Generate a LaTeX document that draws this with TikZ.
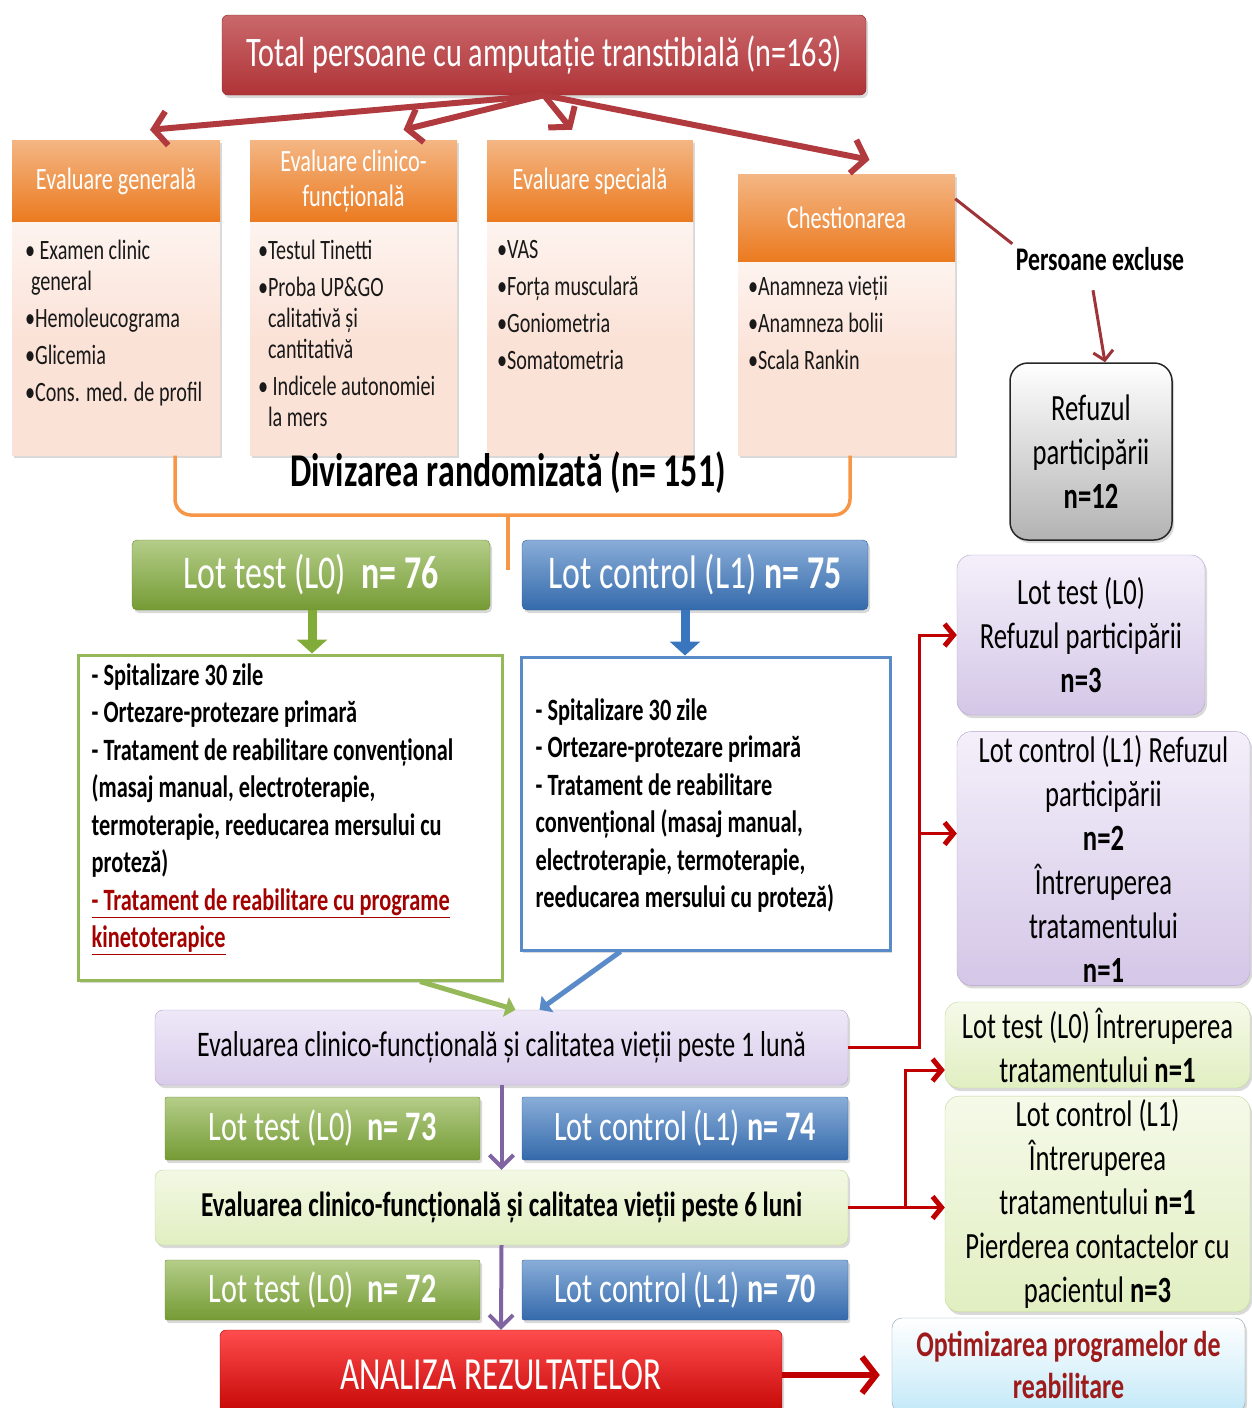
\documentclass[tikz,border=0pt]{standalone}
\usepackage{fontspec}
\setmainfont{Carlito}[FakeStretch=0.72]
\usetikzlibrary{positioning}
\usetikzlibrary{arrows.meta}
\usetikzlibrary{shadows}

\definecolor{titlered}{HTML}{B8363A}
\definecolor{fanred}{HTML}{B03A3E}
\definecolor{hdrorange}{HTML}{EB7A1F}
\definecolor{bodypink}{HTML}{FBE2D7}
\definecolor{lotgreen}{HTML}{82AC3A}
\definecolor{lotblue}{HTML}{3A76BE}
\definecolor{lilac}{HTML}{E3D8F3}
\definecolor{lime}{HTML}{E6F2C8}
\definecolor{exitred}{HTML}{C00000}
\definecolor{braceorange}{HTML}{F79646}
\definecolor{arrowpurple}{HTML}{8064A2}
\definecolor{optimblue}{HTML}{C4E9F8}
\definecolor{optimtext}{HTML}{9E1B1B}

\begin{document}
\begin{tikzpicture}[x=1pt,y=-1pt,
      shade/.style={drop shadow={opacity=0.3,shadow xshift=2pt,shadow yshift=-3pt}},
      total/.style={rectangle,rounded corners=6pt,shade,draw=titlered!70!black,top color=titlered!75!white,bottom color=titlered!95!black,text=white,font=\fontsize{42}{46}\selectfont},
      hdr/.style={rectangle,shade,top color=hdrorange!55!white,bottom color=hdrorange,text=white,align=center,minimum height=82pt,font=\fontsize{31}{35}\selectfont},
      body/.style={rectangle,shade,top color=bodypink!40!white,bottom color=bodypink,middle color=bodypink},
      item/.style={inner sep=0pt,align=left,text=black!90,font=\fontsize{28}{31}\selectfont},
      lotA/.style={rectangle,rounded corners=5pt,shade,draw=lotgreen!80!black,top color=lotgreen!60!white,bottom color=lotgreen!90!black,text=white,font=\fontsize{47}{50}\selectfont},
      lotB/.style={rectangle,rounded corners=5pt,shade,draw=lotblue!80!black,top color=lotblue!60!white,bottom color=lotblue!90!black,text=white,font=\fontsize{47}{50}\selectfont},
      plan/.style={rectangle,fill=white,line width=3pt,shade},
      plantext/.style={inner sep=0pt,align=left,font=\bfseries\fontsize{31}{37.5}\selectfont},
      eval/.style={rectangle,rounded corners=8pt,shade,font=\fontsize{36}{40}\selectfont},
      side/.style={rectangle,rounded corners=14pt,shade,align=center,font=\fontsize{37}{44}\selectfont},
      fan/.style={draw=fanred,line width=6pt,-{Straight Barb[length=13pt,width=34pt]}},
      thinred/.style={draw=fanred!90!black,line width=3pt},
      down/.style={line width=9pt,-{Triangle[length=14pt,width=30pt]}},
      diag/.style={line width=5pt,-{Triangle[length=10pt,width=20pt]}},
      parrow/.style={draw=arrowpurple,line width=4pt,-{Straight Barb[length=12pt,width=24pt]}},
      exit/.style={draw=exitred,line width=3pt,-{Straight Barb[length=9pt,width=22pt,line width=5pt]}},
      brace/.style={draw=braceorange,line width=3.5pt,rounded corners=16pt},
  ]
  \useasboundingbox (0,0) rectangle (1252,1408);

  % title
  \node[total,minimum width=644pt,minimum height=80pt] (total) at (544,55) {Total persoane cu amputație transtibială (n=163)};

  % four evaluation columns
  \node[hdr,minimum width=208pt] (gen) at (116,181) {Evaluare generală};
  \node[hdr,minimum width=207pt] (clin) at (353.5,181) {Evaluare clinico-\\funcțională};
  \node[hdr,minimum width=206pt] (spec) at (590,181) {Evaluare specială};
  \node[hdr,minimum width=217pt,minimum height=88pt] (chest) at (846.5,218) {Chestionarea};

  \node[body,minimum width=208pt,minimum height=233pt,below=0pt of gen] (genb) {};
  \node[body,minimum width=207pt,minimum height=233pt,below=0pt of clin] (clinb) {};
  \node[body,minimum width=206pt,minimum height=233pt,below=0pt of spec] (specb) {};
  \node[body,minimum width=217pt,minimum height=193pt,below=0pt of chest] (chestb) {};

  \node[item,below right=18pt and 13pt of genb.north west] (genitems)
    {• Examen clinic\\\hspace*{6pt}general\\[6pt]•Hemoleucograma\\[6pt]•Glicemia\\[6pt]•Cons. med. de profil};
  \node[item,below right=18pt and 8pt of clinb.north west] (clinitems)
    {•Testul Tinetti\\[6pt]•Proba UP\&GO\\\hspace*{10pt}calitativă și\\\hspace*{10pt}cantitativă\\[6pt]• Indicele autonomiei\\\hspace*{10pt}la mers};
  \node[item,below right=18pt and 10pt of specb.north west] (specitems)
    {•VAS\\[6pt]•Forța musculară\\[6pt]•Goniometria\\[6pt]•Somatometria};
  \node[item,below right=14pt and 10pt of chestb.north west] (chestitems)
    {•Anamneza vieții\\[6pt]•Anamneza bolii\\[6pt]•Scala Rankin};

  \foreach \t/\dx/\dy in {gen/34/10,clin/50/10,spec/-18/10,chest/23/14}
    \draw[fan] (total.south) -- ([xshift=\dx pt,yshift=\dy pt]\t.north);

  % excluded
  \node[font=\bfseries\fontsize{33}{36}\selectfont] (excl) at (1100,259) {Persoane excluse};
  \node[side,rounded corners=18pt,draw=black!85,line width=1.5pt,top color=white,bottom color=black!30,minimum width=162pt,minimum height=177pt] (ref12) at (1091,451.5) {Refuzul\\participării\\\textbf{n=12}};
  \draw[thinred] ([yshift=-25pt]chest.north east) -- (excl.north west);
  \draw[thinred,-{Straight Barb[length=9pt,width=20pt]}] ([xshift=-7pt,yshift=-16pt]excl.south) -- ([xshift=14pt]ref12.north);

  % randomisation
  \node[font=\bfseries\fontsize{47}{50}\selectfont] (div) at (508,473) {Divizarea randomizată (n= 151)};
  \coordinate (split) at (508,515);
  \draw[brace] ([xshift=59pt]genb.south) |- (split) -| ([xshift=3.5pt]chestb.south);
  \draw[brace,rounded corners=0pt] (split) -- ++(0,55);

  \node[lotA,minimum width=358pt,minimum height=70pt] (lt76) at (311,575) {Lot test (L0)~ \textbf{n= 76}};
  \node[lotB,minimum width=346pt,minimum height=70pt] (lc75) at (695,575) {Lot control (L1) \textbf{n= 75}};

  % treatment plans
  \node[plan,draw=lotgreen!85!white,minimum width=424pt,minimum height=325pt] (gplan) at (290,817.5) {};
  \node[plan,draw=lotblue!85!white,minimum width=369pt,minimum height=293pt] (bplan) at (705.5,803.5) {};
  \node[plantext,below right=10pt and 15pt of gplan.north west] (gtext)
    {- Spitalizare 30 zile\\- Ortezare-protezare primară\\- Tratament de reabilitare convențional\\(masaj manual, electroterapie,\\termoterapie, reeducarea mersului cu\\proteză)\\
     \textcolor{exitred!85!black}{\underline{- Tratament de reabilitare cu programe}}\\\textcolor{exitred!85!black}{\underline{kinetoterapice}}};
  \node[plantext,below right=43pt and 16pt of bplan.north west] (btext)
    {- Spitalizare 30 zile\\- Ortezare-protezare primară\\- Tratament de reabilitare\\convențional (masaj manual,\\electroterapie, termoterapie,\\reeducarea mersului cu proteză)};
  \draw[down,draw=lotgreen] ([xshift=1pt]lt76.south) -- ([xshift=1pt]lt76.south |- gplan.north);
  \draw[down,draw=lotblue] ([xshift=-10pt]lc75.south) -- ([xshift=-10pt]lc75.south |- bplan.north);

  % follow-up
  \node[eval,draw=arrowpurple!60!white,top color=lilac!60!white,bottom color=lilac!90!arrowpurple,minimum width=693pt,minimum height=75pt] (ev1) at (501.5,1047.5) {Evaluarea clinico-funcțională și calitatea vieții peste 1 lună};
  \draw[diag,draw=lotgreen!85!white] ([xshift=130pt]gplan.south) -- ([xshift=14pt]ev1.north);
  \draw[diag,draw=lotblue!85!white] ([xshift=-85pt]bplan.south) -- ([xshift=38pt]ev1.north);

  \node[lotA,rounded corners=2pt,minimum width=315pt,minimum height=63pt,font=\fontsize{42}{45}\selectfont] (lt73) at (322.5,1128.5) {Lot test (L0)~ \textbf{n= 73}};
  \node[lotB,rounded corners=2pt,minimum width=326pt,minimum height=63pt,font=\fontsize{42}{45}\selectfont] (lc74) at (685,1128.5) {Lot control (L1) \textbf{n= 74}};

  \node[eval,draw=lotgreen!50!white,top color=lime!50!white,bottom color=lime!95!lotgreen,minimum width=693pt,minimum height=75pt,font=\bfseries\fontsize{35}{40}\selectfont] (ev6) at (501.5,1207.5) {Evaluarea clinico-funcțională și calitatea vieții peste 6 luni};

  \node[lotA,rounded corners=2pt,minimum width=315pt,minimum height=60pt,font=\fontsize{42}{45}\selectfont] (lt72) at (322.5,1290) {Lot test (L0)~ \textbf{n= 72}};
  \node[lotB,rounded corners=2pt,minimum width=326pt,minimum height=60pt,font=\fontsize{42}{45}\selectfont] (lc70) at (685,1290) {Lot control (L1) \textbf{n= 70}};

  \node[total,draw=exitred!80!black,top color=red!70!white,bottom color=exitred,minimum width=562pt,minimum height=90pt,font=\fontsize{46}{50}\selectfont] (anal) at (501,1375) {ANALIZA REZULTATELOR};
  \node[side,rounded corners=10pt,draw=optimblue!70!black,top color=white,bottom color=optimblue,text=optimtext,minimum width=353pt,minimum height=94pt,font=\bfseries\fontsize{36}{42}\selectfont] (optim) at (1068.5,1365) {Optimizarea programelor de\\reabilitare};

  \draw[parrow] (ev1.south) -- (ev6.north);
  \draw[parrow] (ev6.south) -- (anal.north);
  \draw[draw=exitred,line width=6pt,shorten >=12pt,-{Straight Barb[length=14pt,width=36pt]}] (anal.east) -- (anal.east -| optim.west);

  % drop-outs
  \node[side,draw=arrowpurple!60!white,top color=lilac!40!white,bottom color=lilac!85!arrowpurple,minimum width=248pt,minimum height=160pt] (rl0) at (1081,635) {Lot test (L0)\\Refuzul participării\\\textbf{n=3}};
  \node[side,draw=arrowpurple!60!white,top color=lilac!40!white,bottom color=lilac!85!arrowpurple,minimum width=293pt,minimum height=253pt] (rl1) at (1103.5,858.5) {Lot control (L1) Refuzul\\participării\\\textbf{n=2}\\Întreruperea\\tratamentului\\\textbf{n=1}};
  \node[side,draw=lotgreen!50!white,top color=lime!40!white,bottom color=lime!95!lotgreen,minimum width=305pt,minimum height=86pt] (il0) at (1097.5,1045) {Lot test (L0) Întreruperea\\tratamentului \textbf{n=1}};
  \node[side,draw=lotgreen!50!white,top color=lime!40!white,bottom color=lime!95!lotgreen,minimum width=305pt,minimum height=202pt] (il1) at (1097.5,1204) {Lot control (L1)\\Întreruperea\\tratamentului \textbf{n=1}\\Pierderea contactelor cu\\pacientul \textbf{n=3}};

  \draw[exit] (ev1.east) -| ([xshift=-37pt]rl0.west) -- (rl0.west);
  \draw[exit] ([xshift=-37pt,yshift=25pt]rl1.west) -- ([yshift=25pt]rl1.west);
  \draw[exit] (ev6.east) -- (ev6.east -| il1.west);
  \draw[exit] ([xshift=57pt]ev6.east) |- ([yshift=-25pt]il0.west);
\end{tikzpicture}
\end{document}
